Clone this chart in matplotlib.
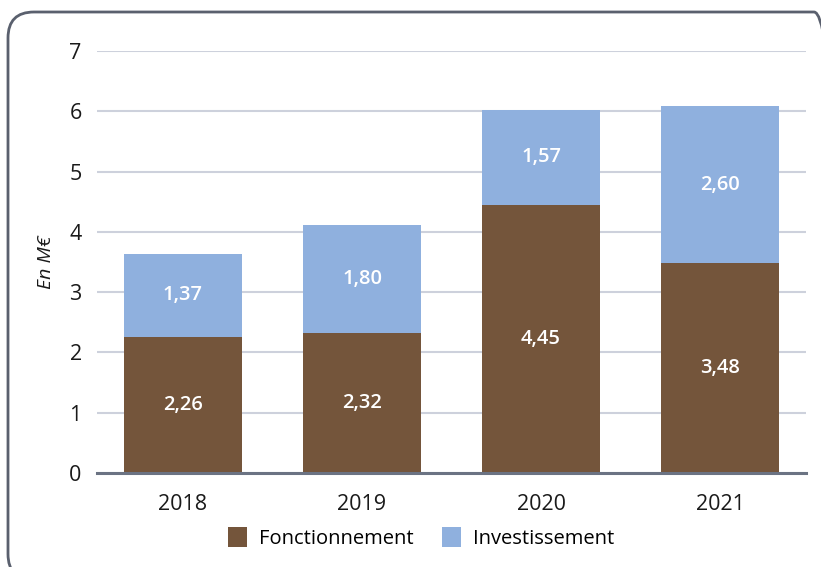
import numpy as np
import matplotlib.pyplot as plt
from matplotlib.patches import FancyBboxPatch

# Data
years = ["2018", "2019", "2020", "2021"]
fonctionnement = [2.26, 2.32, 4.45, 3.48]
investissement = [1.37, 1.80, 1.57, 2.60]
series_names = ["Fonctionnement", "Investissement"]
y_ticks = [0, 1, 2, 3, 4, 5, 6, 7]

brown = "#74553b"
blue = "#8fb0de"
text_col = "#1a1a1a"

plt.rcParams["font.family"] = ["Open Sans", "DejaVu Sans"]

fig = plt.figure(figsize=(8.21, 5.67), dpi=100)

# rounded frame around the chart (runs off the right and bottom edges), in inches
frame = FancyBboxPatch((0.08, -0.13), 8.32, 5.68,
                       boxstyle="round,pad=0,rounding_size=0.26",
                       transform=fig.dpi_scale_trans, fill=False,
                       edgecolor="#5a606e", linewidth=2.0)
fig.patches.append(frame)

ax = fig.add_axes([97 / 821, 1 - 473 / 567, 709 / 821, 422 / 567])

x = np.arange(len(years))
w = 0.66
b1 = ax.bar(x, fonctionnement, w, color=brown, label=series_names[0], zorder=3)
b2 = ax.bar(x, investissement, w, bottom=fonctionnement, color=blue,
            label=series_names[1], zorder=3)

# value labels centred in each segment
for i in range(len(years)):
    f = fonctionnement[i]
    v = investissement[i]
    ax.text(x[i], f / 2, f"{f:.2f}".replace(".", ","), ha="center", va="center",
            color="white", fontsize=14.5, fontweight="semibold", zorder=4)
    ax.text(x[i], f + v / 2, f"{v:.2f}".replace(".", ","), ha="center", va="center",
            color="white", fontsize=14.5, fontweight="semibold", zorder=4)

ax.set_xlim(-0.48, 3.48)
ax.set_ylim(0, 7)
ax.set_yticks(y_ticks)
ax.set_xticks(x)
ax.set_xticklabels(years)
ax.tick_params(axis="both", length=0, labelsize=15.5, colors=text_col)
ax.tick_params(axis="y", pad=11)
ax.tick_params(axis="x", pad=15)

ax.yaxis.grid(True, color="#cdd1dc", linewidth=1.5, zorder=0)
ax.set_axisbelow(True)
for s in ["top", "right", "left"]:
    ax.spines[s].set_visible(False)
ax.spines["bottom"].set_color("#6b7383")
ax.spines["bottom"].set_linewidth(2.2)
ax.spines["bottom"].set_zorder(5)

ax.set_ylabel("En M€", fontsize=14, style="italic", color=text_col, labelpad=10)

fig.legend(handles=[b1, b2], loc="center", bbox_to_anchor=(421 / 821, 1 - 538 / 567),
           ncol=2, frameon=False, fontsize=14.5, handlelength=0.95, handleheight=1.1,
           handletextpad=0.6, columnspacing=1.4)

fig.savefig("out.png", dpi=100)
